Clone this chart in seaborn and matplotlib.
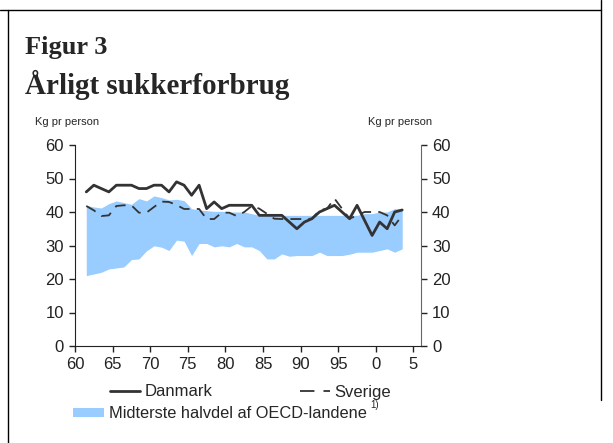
import numpy as np
import pandas as pd
import seaborn as sns
import matplotlib.pyplot as plt
from matplotlib.lines import Line2D
from matplotlib.patches import Patch

sns.set_style('ticks')
plt.rcParams['font.family'] = ['Liberation Sans', 'DejaVu Sans']

# aar 1961-2003 (vist som 61..103, midt i aaret)
years = list(range(61, 104))

danmark = [46, 48, 47, 46, 48, 48, 48, 47, 47, 48,
           48, 46, 49, 48, 45, 48, 41, 43, 41, 42,
           42, 42, 42, 39, 39, 39, 39, 37, 35, 37,
           38, 40, 41, 42, 40, 38, 42, 37.5, 33, 37,
           35, 40, 40.6]

sverige = [41.8, 40.5, 38.8, 39, 41.8, 42, 42, 39.8, 39.8, 41.5,
           43.1, 43, 42.1, 40.9, 40.9, 40.9, 37.9, 37.9, 39.8, 39.8,
           38.8, 40, 41.8, 41, 39.5, 38, 37.9, 37.9, 37.9, 37.9,
           38, 40.5, 41, 44, 41, 38, 39, 40, 40, 40,
           39, 36, 39]

oecd_hoej = [42, 41.5, 41.2, 42.5, 43.3, 42.8, 42.3, 44, 43.3, 44.8,
             44.3, 43.6, 43.8, 43.4, 41, 40.6, 40.4, 40.2, 40.2, 40,
             40, 40, 39.5, 39, 39, 39, 39, 39, 39, 39,
             39, 39, 39, 39, 39, 39, 39, 39.5, 39.5, 40,
             40, 41, 41]

oecd_lav = [21, 21.5, 22, 23, 23.3, 23.6, 25.8, 26, 28.4, 29.9,
            29.5, 28.5, 31.6, 31.3, 27, 30.6, 30.6, 29.6, 29.9, 29.6,
            30.6, 29.6, 29.6, 28.5, 26, 26, 27.5, 26.8, 27, 27,
            27, 28, 27, 27, 27, 27.4, 28, 28, 28, 28.5,
            29, 28, 29]

xticks = [60, 65, 70, 75, 80, 85, 90, 95, 100, 105]
xticklabels = ['60', '65', '70', '75', '80', '85', '90', '95', '0', '5']
yticks = [0, 10, 20, 30, 40, 50, 60]

df = pd.DataFrame({'aar': np.array(years) + 0.5,
                   'Danmark': danmark, 'Sverige': sverige,
                   'hoej': oecd_hoej, 'lav': oecd_lav})

blaa = '#99ccff'
linjefarve = '#333333'

fig = plt.figure(figsize=(6.13, 4.43), dpi=100)
ax = fig.add_axes([75 / 613, 1 - 346 / 443, 346 / 613, 201 / 443])

ax.fill_between(df['aar'], df['lav'], df['hoej'], color=blaa, linewidth=0)
sns.lineplot(data=df, x='aar', y='Sverige', ax=ax, color=linjefarve,
             linewidth=1.3, dashes=False, linestyle=(0, (6, 4)))
sns.lineplot(data=df, x='aar', y='Danmark', ax=ax, color=linjefarve, linewidth=2)

ax.set_xlim(60, 106)
ax.set_ylim(0, 60)
ax.set_xticks(xticks)
ax.set_xticklabels(xticklabels)
ax.set_yticks(yticks)
ax.set_xlabel('')
ax.set_ylabel('')
ax.tick_params(axis='both', labelsize=12, direction='out', length=4, width=1,
               colors='#222222', pad=4)
ax.tick_params(axis='y', right=True, labelright=True)
ax.spines['top'].set_visible(False)
ax.spines['left'].set_color('#222222')
ax.spines['bottom'].set_color('#222222')
ax.spines['right'].set_color('#666666')
ax.grid(False)

# titler
fig.text(25 / 613, 1 - 54 / 443, 'Figur 3', family='Liberation Serif',
         weight='bold', fontsize=19, ha='left', va='baseline')
fig.text(25 / 613, 1 - 94 / 443, 'Årligt sukkerforbrug', family='Liberation Serif',
         weight='bold', fontsize=21, ha='left', va='baseline')
fig.text(35 / 613, 1 - 125 / 443, 'Kg pr person', fontsize=8, ha='left', va='baseline')
fig.text(368 / 613, 1 - 125 / 443, 'Kg pr person', fontsize=8, ha='left', va='baseline')

# legende
h1 = [Line2D([], [], color=linjefarve, linewidth=2),
      Line2D([], [], color=linjefarve, linewidth=1.3, linestyle=(0, (8, 5)))]
leg1 = fig.legend(h1, ['Danmark', 'Sverige'], ncol=2, frameon=False, fontsize=12,
                  loc='center left', bbox_to_anchor=(110 / 613, 1 - 392 / 443),
                  handlelength=1.8, handletextpad=0.3, columnspacing=5.2,
                  borderaxespad=0, borderpad=0)
h2 = [Patch(facecolor=blaa, edgecolor='none')]
leg2 = fig.legend(h2, ['Midterste halvdel af OECD-landene'], frameon=False,
                  fontsize=11.8, loc='center left',
                  bbox_to_anchor=(73 / 613, 1 - 414 / 443), handlelength=1.9,
                  handleheight=0.45, handletextpad=0.3, borderaxespad=0, borderpad=0)
fig.text(370 / 613, 1 - 408 / 443, '1)', fontsize=7, ha='left', va='baseline')

# ramme
fig.add_artist(Line2D([0, 601 / 613], [1 - 10 / 443, 1 - 10 / 443], color='black', linewidth=1))
fig.add_artist(Line2D([8 / 613, 8 / 613], [0, 1 - 10 / 443], color='black', linewidth=1))
fig.add_artist(Line2D([601 / 613, 601 / 613], [1 - 400 / 443, 1], color='black', linewidth=1))

fig.savefig('out.png', dpi=100)
